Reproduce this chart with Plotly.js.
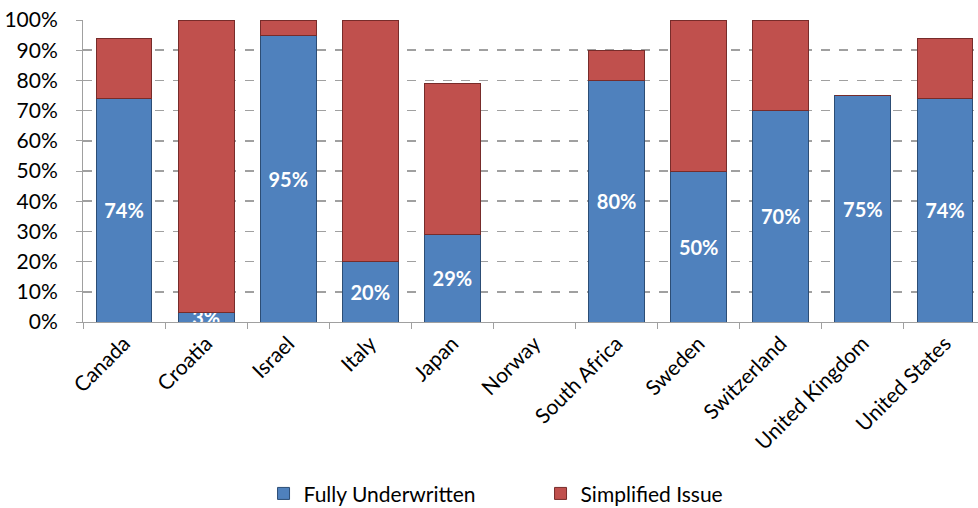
<!DOCTYPE html>
<html><head><meta charset="utf-8">
<script src="https://cdn.plot.ly/plotly-3.0.1.min.js"></script>
<style>html,body{margin:0;padding:0;overflow:hidden;background:#fff}#c{width:990px;height:508px}</style>
</head><body><div id="c"></div>
<script>
const countries = ["Canada","Croatia","Israel","Italy","Japan","Norway","South Africa","Sweden","Switzerland","United Kingdom","United States"];
const fullyUnderwritten = [74, 3, 95, 20, 29, 0, 80, 50, 70, 75, 74];
const simplifiedIssue = [20, 97, 5, 80, 50, 0, 10, 50, 30, 0, 20];
const yTickVals = [0,10,20,30,40,50,60,70,80,90,100];
const yTickText = ["0%","10%","20%","30%","40%","50%","60%","70%","80%","90%","100%"];

const FONT = "Lato, 'Open Sans', sans-serif";
const fuLabels = fullyUnderwritten.map(v => v > 0 ? v + "%" : "");

const traces = [
  {type:"bar", name:"Fully Underwritten", x:countries, y:fullyUnderwritten,
   marker:{color:"#4F81BD", line:{color:"#2C4D75", width:1}},
   text:fuLabels, textposition:"inside", insidetextanchor:"middle", constraintext:"none",
   textfont:{color:"#FFFFFF", size:20, family:FONT, weight:"bold"}, hoverinfo:"x+y"},
  {type:"bar", name:"Simplified Issue", x:countries, y:simplifiedIssue,
   marker:{color:"#C0504D", line:{color:"#772C2A", width:1}}, hoverinfo:"x+y"}
];

const layout = {
  width:990, height:508,
  margin:{l:83, r:4, t:20, b:186},
  barmode:"stack", bargap:0.32,
  paper_bgcolor:"#fff", plot_bgcolor:"#fff",
  font:{family:FONT, size:21, color:"#000"},
  xaxis:{type:"category", tickangle:-45, tickson:"boundaries", ticks:"outside", ticklen:6,
         tickcolor:"#A0A0A0", showline:true, linecolor:"#A0A0A0", linewidth:1,
         showgrid:false, tickfont:{size:21, family:FONT}},
  yaxis:{range:[0,100], tickmode:"array", tickvals:yTickVals, ticktext:yTickText, ticks:"outside", ticklen:6,
         tickcolor:"#A0A0A0", showline:true, linecolor:"#A0A0A0", linewidth:1,
         showgrid:true, gridcolor:"#A0A0A0", griddash:"dash", gridwidth:1.5,
         zeroline:false, ticklabelstandoff:14, tickfont:{size:21, family:FONT}},
  showlegend:true,
  legend:{orientation:"h", traceorder:"normal", xref:"container", yref:"container", x:0.546, xanchor:"center",
          y:0.028, yanchor:"middle", font:{size:21, family:FONT}, entrywidth:232},
};
Plotly.newPlot("c", traces, layout, {displayModeBar:false, staticPlot:true});
</script></body></html>
